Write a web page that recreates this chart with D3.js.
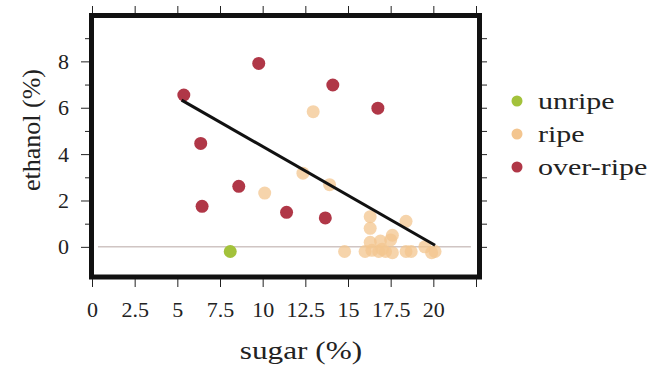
<!DOCTYPE html>
<html>
<head>
<meta charset="utf-8">
<script src="https://cdn.jsdelivr.net/npm/d3@7"></script>
<style>
  body { margin: 0; background: #fff; }
  text { font-family: "Liberation Serif", "Times New Roman", serif; fill: #222; }
</style>
</head>
<body>
<svg id="chart" width="655" height="366"></svg>
<script>
// values
const unripeSugar = [8.1];
const unripeEthanol = [-0.2];

const ripeSugar = [12.96, 10.12, 12.36, 13.92, 16.3, 16.3, 18.4, 17.6, 16.9, 17.5, 14.8, 16.0, 16.4, 16.8, 17.2, 17.6, 18.4, 18.7, 19.5, 19.9, 20.1, 16.3, 17.0];
const ripeEthanol = [5.83, 2.32, 3.18, 2.68, 1.3, 0.8, 1.1, 0.5, 0.25, 0.3, -0.2, -0.2, -0.15, -0.2, -0.2, -0.25, -0.2, -0.2, 0.0, -0.25, -0.2, 0.2, -0.1];

const overSugar = [5.38, 9.77, 14.11, 16.75, 6.37, 8.6, 6.45, 11.4, 13.67];
const overEthanol = [6.55, 7.91, 6.98, 5.98, 4.46, 2.61, 1.75, 1.49, 1.25];

// fitted line end points
const fitSugar = [5.25, 20.1];
const fitEthanol = [6.33, 0.07];

const xTicks = [0, 2.5, 5, 7.5, 10, 12.5, 15, 17.5, 20, 22.5];
const xTickLabels = ["0", "2.5", "5", "7.5", "10", "12.5", "15", "17.5", "20", ""];
const yMajor = [0, 2, 4, 6, 8];
const yMinor = [1, 3, 5, 7, 9];
const yAll = [0, 1, 2, 3, 4, 5, 6, 7, 8, 9];

const groups = ["unripe", "ripe", "over-ripe"];
const colors = { "unripe": "#a3c23b", "ripe": "#f3c58f", "over-ripe": "#b03747" };
const opac = { "unripe": 1, "ripe": 0.75, "over-ripe": 1 };

const svg = d3.select("#chart");

const x = d3.scaleLinear().domain([0, 22.5]).range([92, 476]);
const y = d3.scaleLinear().domain([-1.3, 10]).range([277, 15]);

// zero line
svg.append("line")
  .attr("x1", x(0.35)).attr("x2", x(22.2))
  .attr("y1", y(0)).attr("y2", y(0))
  .attr("stroke", "#b7a7a4").attr("stroke-width", 1);

// points
const pts = [];
unripeSugar.forEach((s, i) => pts.push({ g: "unripe", s: s, e: unripeEthanol[i] }));
ripeSugar.forEach((s, i) => pts.push({ g: "ripe", s: s, e: ripeEthanol[i] }));
overSugar.forEach((s, i) => pts.push({ g: "over-ripe", s: s, e: overEthanol[i] }));

svg.append("g").selectAll("circle")
  .data(pts)
  .join("circle")
    .attr("cx", d => x(d.s))
    .attr("cy", d => y(d.e))
    .attr("r", 6.5)
    .attr("fill", d => colors[d.g])
    .attr("fill-opacity", d => opac[d.g]);

// regression line
svg.append("path")
  .datum(fitSugar.map((s, i) => [s, fitEthanol[i]]))
  .attr("d", d3.line().x(d => x(d[0])).y(d => y(d[1])))
  .attr("stroke", "#111").attr("stroke-width", 3).attr("fill", "none");

// frame
svg.append("rect")
  .attr("x", x(0) - 0.5).attr("y", y(10) + 0.5)
  .attr("width", x(22.5) - x(0) + 4).attr("height", y(-1.3) - y(10) - 0.5)
  .attr("fill", "none").attr("stroke", "#111").attr("stroke-width", 5);

// bottom axis
const axB = svg.append("g")
  .attr("transform", "translate(0,279)")
  .call(d3.axisBottom(x).tickValues(xTicks).tickSize(8).tickPadding(14)
    .tickFormat((d, i) => xTickLabels[i]));
axB.select(".domain").remove();
axB.selectAll("line").attr("stroke", "#222");
axB.selectAll("text").style("font-size", "22px").attr("fill", "#222");

// top axis
const axT = svg.append("g")
  .attr("transform", "translate(0,13)")
  .call(d3.axisTop(x).tickValues(xTicks).tickSize(7).tickFormat(""));
axT.select(".domain").remove();
axT.selectAll("line").attr("stroke", "#222");

// left axis
const axL = svg.append("g")
  .attr("transform", "translate(89,0)")
  .call(d3.axisLeft(y).tickValues(yMajor).tickSize(8).tickPadding(12).tickFormat(d3.format("d")));
axL.select(".domain").remove();
axL.selectAll("line").attr("stroke", "#222");
axL.selectAll("text").style("font-size", "22px").attr("fill", "#222");

const axLm = svg.append("g")
  .attr("transform", "translate(89,0)")
  .call(d3.axisLeft(y).tickValues(yMinor).tickSize(4).tickFormat(""));
axLm.select(".domain").remove();
axLm.selectAll("line").attr("stroke", "#222");

// right axis
const axR = svg.append("g")
  .attr("transform", "translate(482,0)")
  .call(d3.axisRight(y).tickValues(yAll).tickSize(5).tickFormat(""));
axR.select(".domain").remove();
axR.selectAll("line").attr("stroke", "#222");

// axis titles
svg.append("text")
  .attr("x", 301).attr("y", 359)
  .attr("text-anchor", "middle")
  .attr("transform", "translate(301,0) scale(1.25,1) translate(-301,0)")
  .style("font-size", "25px")
  .text("sugar (%)");

svg.append("text")
  .attr("transform", "translate(40,130) rotate(-90)")
  .attr("text-anchor", "middle")
  .style("font-size", "26px")
  .text("ethanol (%)");

// legend
const leg = svg.append("g").selectAll("g")
  .data(groups)
  .join("g")
    .attr("transform", (d, i) => "translate(517," + (101 + i * 33) + ")");
leg.append("circle").attr("r", 5.5).attr("fill", d => colors[d]);
leg.append("text")
  .attr("x", 0).attr("y", 8)
  .attr("transform", "translate(21,0) scale(1.25,1)")
  .style("font-size", "24px")
  .text(d => d);
</script>
</body>
</html>
